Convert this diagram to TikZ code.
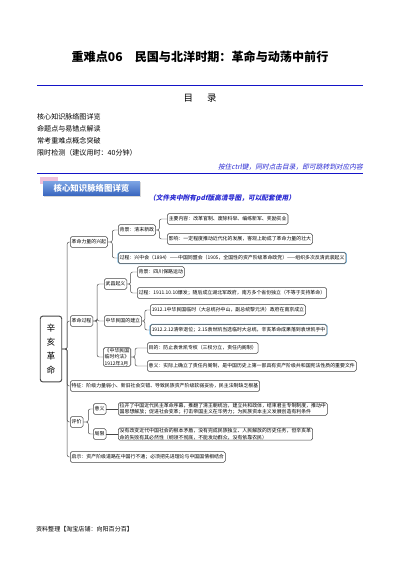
\documentclass[tikz,border=0pt]{standalone}
\usepackage{fontspec}
\setmainfont{Noto Sans CJK SC}
\newfontfamily\notefont[FakeSlant=0.2]{Noto Sans CJK SC}
\usepackage{tikz}
\usetikzlibrary{positioning, shadows}

\definecolor{ruleblue}{RGB}{20,20,200}
\definecolor{noteblue}{RGB}{40,40,210}
\definecolor{hdrtop}{RGB}{125,165,228}
\definecolor{hdrbot}{RGB}{55,100,190}
\definecolor{tabpink}{RGB}{240,192,218}
\definecolor{boxline}{RGB}{70,70,70}
\definecolor{glow}{RGB}{125,190,232}

\begin{document}
\begin{tikzpicture}[
        x=1.4875pt, y=-1.4875pt,
        mapbox/.style={
            draw=boxline,
            line width=0.8pt,
            rounded corners=2.5pt,
            fill=white,
            inner xsep=2.2pt,
            inner ysep=1pt,
            minimum height=16pt,
            anchor=west,
            font=\fontsize{7.3}{9.5}\selectfont
        },
        hlbox/.style={
            mapbox,
            preaction={draw=glow, line width=2.4pt}
        },
        rootbox/.style={
            draw=boxline,
            line width=1.4pt,
            rounded corners=4pt,
            fill=white,
            minimum width=32pt,
            minimum height=98pt,
            align=center,
            font=\fontsize{13}{20.5}\selectfont
        },
        hdrbox/.style={
            top color=hdrtop,
            bottom color=hdrbot,
            minimum width=144pt,
            minimum height=22pt,
            text=white,
            font=\fontsize{12.5}{14}\selectfont\bfseries,
            drop shadow={opacity=0.3, shadow xshift=1.5pt, shadow yshift=-1.5pt}
        },
        tocitem/.style={
            anchor=west,
            inner sep=0pt,
            font=\fontsize{10.5}{12}\selectfont
        },
        conn/.style={
            draw=boxline,
            line width=0.7pt,
            rounded corners=3pt
        }
    ]

    \useasboundingbox (0,0) rectangle (400,566);
    \fill [white] (0,0) rectangle (400,566);

    % Title and contents
    \node (title) at (200,57) {\fontsize{18}{20}\selectfont\bfseries 重难点06\quad 民国与北洋时期：革命与动荡中前行};
    \draw [ruleblue, line width=1.2pt] (37,85) -- (363,85);
    \node (toc) at (200,98) {\fontsize{14}{16}\selectfont 目\hspace{1.5em}录};
    \node (toc1) [tocitem] at (37,117) {核心知识脉络图详览};
    \node (toc2) [tocitem] at (37,129) {命题点与易错点解读};
    \node (toc3) [tocitem] at (37,141) {常考重难点概念突破};
    \node (toc4) [tocitem] at (37,153) {限时检测（建议用时：40分钟）};
    \node (hint) [anchor=east, inner sep=0pt, text=noteblue, font=\fontsize{10}{12}\selectfont\notefont] at (363,167) {按住ctrl键，同时点击目录，即可跳转到对应内容};
    \draw [ruleblue, line width=1.2pt] (37,173) -- (363,173);

    % Section header
    \fill [tabpink] (40,177) rectangle (58,184);
    \node (hdr) [hdrbox] at (91.5,188.5) {核心知识脉络图详览};
    \node (pdfnote) [anchor=west, inner sep=0pt, text=noteblue, font=\fontsize{10}{12}\selectfont\notefont\bfseries] at (149,198) {（文件夹中附有pdf版高清导图，可以配套使用）};

    % Root
    \node (root) [rootbox] at (51,349) {辛\\亥\\革\\命};

    % Branch: rise of revolutionary forces
    \node (rise) [mapbox] at (70,242) {革命力量的兴起};
    \node (bg) [mapbox] at (118,230) {背景：清末新政};
    \node (content) [mapbox] at (167,219) {主要内容：改革官制、废除科举、编练新军、奖励实业};
    \node (effect) [mapbox] at (167,239) {影响：一定程度推动近代化的发展，客观上助成了革命力量的壮大};
    \node (proc) [hlbox] at (118,258) {过程：兴中会（1894）——中国同盟会（1905，全国性的资产阶级革命政党）——组织多次反清武装起义};

    % Branch: course of the revolution
    \node (course) [mapbox] at (70,321) {革命过程};
    \node (wuchang) [mapbox] at (104,284) {武昌起义};
    \node (wcbg) [mapbox] at (137,272) {背景：四川保路运动};
    \node (wcproc) [mapbox] at (137,293) {过程：1911.10.10爆发；随后成立湖北军政府，南方多个省份独立（不等于支持革命）};
    \node (roc) [mapbox] at (104,321) {中华民国的建立};
    \node (roc1) [mapbox] at (150,310) {1912.1中华民国临时（大总统孙中山，副总统黎元洪）政府在南京成立};
    \node (roc2) [hlbox] at (150,330) {1912.2.12清帝退位；2.15袁世凯当选临时大总统，辛亥革命成果落到袁世凯手中};
    \node (law) [mapbox, align=left] at (103,357) {《中华民国\\临时约法》\\1912年3月};
    \node (lawaim) [mapbox] at (147,348) {目的：防止袁世凯专权（三权分立，责任内阁制）};
    \node (lawsig) [mapbox] at (147,366) {意义：实际上确立了责任内阁制，是中国历史上第一部具有资产阶级共和国宪法性质的重要文件};

    % Branch: features
    \node (trait) [mapbox] at (70,386) {特征：阶级力量弱小、新旧社会交错、导致民族资产阶级软弱妥协，民主法制缺乏根基};

    % Branch: evaluation
    \node (eval) [mapbox] at (70,422) {评价};
    \node (sig) [mapbox] at (93,409) {意义};
    \node (sigtext) [mapbox, align=left] at (118,409) {拉开了中国近代民主革命序幕，推翻了清王朝统治，建立共和政体，结束君主专制制度，推动中\\国思想解放；促进社会变革；打击帝国主义在华势力；为民族资本主义发展创造有利条件};
    \node (lim) [mapbox] at (93,434) {局限};
    \node (limtext) [mapbox, align=left] at (118,434) {没有改变近代中国社会的根本矛盾，没有完成民族独立、人民解放的历史任务，但辛亥革\\命的失败有其必然性（纲领不彻底，不能发动群众，没有依靠农民）};

    % Branch: lesson
    \node (lesson) [mapbox] at (70,457) {启示：资产阶级道路在中国行不通；必须把先进理论与中国国情相结合};

    % Connectors - root
    \draw [conn] (root.east) -- ++(5,0) |- (rise.west);
    \draw [conn] (root.east) -- ++(5,0) |- (course.west);
    \draw [conn] (root.east) -- ++(5,0) |- (trait.west);
    \draw [conn] (root.east) -- ++(5,0) |- (eval.west);
    \draw [conn] (root.east) -- ++(5,0) |- (lesson.west);

    % Connectors - rise
    \draw [conn] (rise.east) -- ++(4.5,0) |- (bg.west);
    \draw [conn] (rise.east) -- ++(4.5,0) |- (proc.west);
    \draw [conn] (bg.east) -- ++(3.5,0) |- (content.west);
    \draw [conn] (bg.east) -- ++(3.5,0) |- (effect.west);

    % Connectors - course
    \draw [conn] (course.east) -- ++(4,0) |- (wuchang.west);
    \draw [conn] (course.east) -- ++(4,0) |- (roc.west);
    \draw [conn] (course.east) -- ++(4,0) |- (law.west);
    \draw [conn] (wuchang.east) -- ++(3.5,0) |- (wcbg.west);
    \draw [conn] (wuchang.east) -- ++(3.5,0) |- (wcproc.west);
    \draw [conn] (roc.east) -- ++(3,0) |- (roc1.west);
    \draw [conn] (roc.east) -- ++(3,0) |- (roc2.west);
    \draw [conn] (law.east) -- ++(4,0) |- (lawaim.west);
    \draw [conn] (law.east) -- ++(4,0) |- (lawsig.west);

    % Connectors - evaluation
    \draw [conn] (eval.east) -- ++(5,0) |- (sig.west);
    \draw [conn] (eval.east) -- ++(5,0) |- (lim.west);
    \draw [conn] (sig.east) -- (sigtext.west);
    \draw [conn] (lim.east) -- (limtext.west);

    % Footer
    \node (footer) [anchor=west, inner sep=0pt, font=\fontsize{9}{10}\selectfont] at (36,529) {资料整理【淘宝店铺：向阳百分百】};

\end{tikzpicture}
\end{document}
